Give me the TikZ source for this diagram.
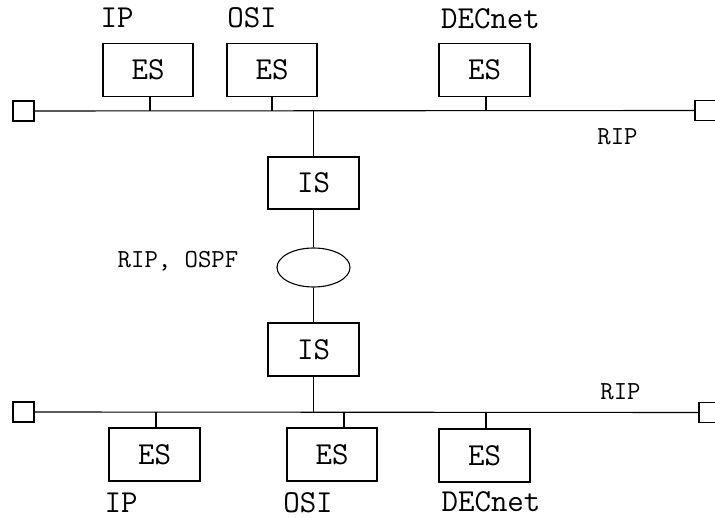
\documentclass[tikz,border=0pt]{standalone}
\usetikzlibrary{shapes.geometric}
\begin{document}
\begin{tikzpicture}[x=1pt, y=-1pt, line width=1.1pt,
  sysbox/.style={draw, rectangle, inner sep=0pt, minimum width=#1, minimum height=53pt,
    font=\ttfamily\fontsize{32}{32}\selectfont},
  term/.style={draw, rectangle, inner sep=0pt, minimum width=21pt, minimum height=20pt},
  cloud/.style={draw, ellipse, inner sep=0pt, minimum width=73pt, minimum height=39pt},
  proto/.style={anchor=base, inner sep=0pt, text depth=0pt, font=\ttfamily\fontsize{32}{32}\selectfont},
  routing/.style={anchor=base, inner sep=0pt, text depth=0pt, font=\ttfamily\fontsize{26}{26}\selectfont}
]
\useasboundingbox (0,0) rectangle (715,518);

% upper segment: terminators and end systems
\node[term] (tl) at (23.5,111) {};
\node[term] (tr) at (705.5,110.5) {};
\node[sysbox=90pt] (esa1) at (148,70) {ES};
\node[sysbox=90pt] (esa2) at (272,70) {ES};
\node[sysbox=91pt] (esa3) at (484.5,70) {ES};
\node[proto] (la1) at (117,28) {IP};
\node[proto] (la2) at (252,28) {OSI};
\node[proto] (la3) at (490.5,29) {DECnet};
\node[routing] (ripa) at (617.5,145) {RIP};

% intermediate systems and the link between them
\node[sysbox=91pt, minimum height=52pt] (isa) at (313.5,183) {IS};
\node[cloud] (wan) at (313.5,267.5) {};
\node[sysbox=91pt] (isb) at (313.5,349.5) {IS};
\node[routing] (ripospf) at (178,268) {RIP, OSPF};

% lower segment: terminators and end systems
\node[term] (bl) at (23.5,412) {};
\node[term] (br) at (709.5,412.5) {};
\node[sysbox=91pt] (esb1) at (154.5,454.5) {ES};
\node[sysbox=90pt] (esb2) at (332,454.5) {ES};
\node[sysbox=91pt] (esb3) at (484.5,455.5) {ES};
\node[proto] (lb1) at (121,512) {IP};
\node[proto] (lb2) at (308,512) {OSI};
\node[proto] (lb3) at (491,511) {DECnet};
\node[routing] (ripb) at (620.5,400) {RIP};

% bus lines
\draw (tl.east) -- (tr.west);
\draw (bl.east) -- (br.west);

% taps onto the upper bus
\coordinate (tapa1) at ([xshift=2pt]esa1.south);
\coordinate (tapa3) at ([xshift=1.5pt]esa3.south);
\draw (tapa1) -- (tapa1 |- tl.east);
\draw (esa2.south) -- (esa2.south |- tl.east);
\draw (tapa3) -- (tapa3 |- tl.east);
\draw (isa.north |- tl.east) -- (isa.north);

% path through the intermediate systems
\draw (isa.south) -- (wan.north);
\draw (wan.south) -- (isb.north);

% taps onto the lower bus
\coordinate (tapb1) at ([xshift=1.5pt]esb1.north);
\coordinate (tapb2) at ([xshift=12pt]esb2.north);
\coordinate (tapb3) at ([xshift=1.5pt]esb3.north);
\draw (isb.south) -- (isb.south |- bl.east);
\draw (tapb1) -- (tapb1 |- bl.east);
\draw (tapb2) -- (tapb2 |- bl.east);
\draw (tapb3) -- (tapb3 |- bl.east);
\end{tikzpicture}
\end{document}
